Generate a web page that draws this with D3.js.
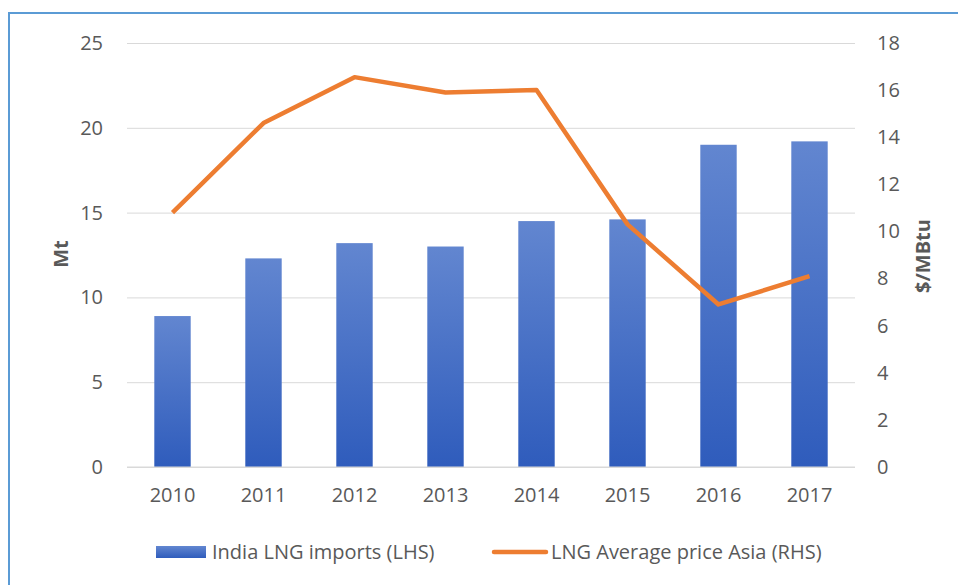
<!DOCTYPE html>
<html>
<head>
<meta charset="utf-8">
<script src="https://cdn.jsdelivr.net/npm/d3@7"></script>
<style>
  body { margin: 0; background: #fff; }
  text { font-family: "Open Sans", "Noto Sans", sans-serif; }
</style>
</head>
<body>
<div id="chart"></div>
<script>
const years = ["2010", "2011", "2012", "2013", "2014", "2015", "2016", "2017"];
const imports = [8.9, 12.3, 13.2, 13.0, 14.5, 14.6, 19.0, 19.2];
const prices = [10.8, 14.6, 16.55, 15.9, 16.0, 10.3, 6.9, 8.1];
const leftTicks = [0, 5, 10, 15, 20, 25];
const rightTicks = [0, 2, 4, 6, 8, 10, 12, 14, 16, 18];

const width = 958;
const height = 585;
const margin = {top: 43, right: 103, bottom: 118, left: 127};
const fontSize = 20;

const svg = d3.select("#chart")
    .append("svg")
    .attr("width", width)
    .attr("height", height);

// frame
svg.append("rect")
    .attr("x", 9).attr("y", 13)
    .attr("width", width + 20).attr("height", height + 20)
    .attr("fill", "none")
    .attr("stroke", "#5b9bd5")
    .attr("stroke-width", 2);

const defs = svg.append("defs");
const grad = defs.append("linearGradient")
    .attr("id", "barGrad")
    .attr("x1", 0).attr("y1", 0).attr("x2", 0).attr("y2", 1);
grad.append("stop").attr("offset", "0%").attr("stop-color", "#6286d0");
grad.append("stop").attr("offset", "100%").attr("stop-color", "#2f5cbc");

const x = d3.scaleBand().domain(years).range([margin.left, width - margin.right]).paddingInner(0.6).paddingOuter(0.3);
const yL = d3.scaleLinear().domain([0, 25]).range([height - margin.bottom, margin.top]);
const yR = d3.scaleLinear().domain([0, 18]).range([height - margin.bottom, margin.top]);

// gridlines
svg.append("g")
    .attr("transform", `translate(${margin.left},0)`)
    .call(d3.axisLeft(yL).tickValues(leftTicks).tickSize(-(width - margin.left - margin.right)).tickFormat(""))
    .call(g => g.select(".domain").remove())
    .call(g => g.selectAll("line").attr("stroke", "#d9d9d9"));

// left axis labels
svg.append("g")
    .attr("transform", `translate(${margin.left - 21},0)`)
    .call(d3.axisLeft(yL).tickValues(leftTicks).tickSize(0))
    .call(g => g.select(".domain").remove())
    .call(g => g.selectAll("text").attr("fill", "#595959").attr("font-size", fontSize));

// right axis labels
svg.append("g")
    .attr("transform", `translate(${width - margin.right + 19},0)`)
    .call(d3.axisRight(yR).tickValues(rightTicks).tickSize(0))
    .call(g => g.select(".domain").remove())
    .call(g => g.selectAll("text").attr("fill", "#595959").attr("font-size", fontSize));

// bars
svg.append("g")
    .selectAll("rect")
    .data(years)
    .join("rect")
    .attr("x", d => x(d))
    .attr("y", (d, i) => yL(imports[i]))
    .attr("width", x.bandwidth())
    .attr("height", (d, i) => yL(0) - yL(imports[i]))
    .attr("fill", "url(#barGrad)");

// x axis
svg.append("g")
    .attr("transform", `translate(0,${height - margin.bottom})`)
    .call(d3.axisBottom(x).tickSize(0).tickPadding(21))
    .call(g => g.select(".domain").attr("stroke", "#d9d9d9").attr("d", `M${margin.left},0H${width - margin.right}`))
    .call(g => g.selectAll("text").attr("fill", "#595959").attr("font-size", fontSize));

// line
const line = d3.line()
    .x((d, i) => x(years[i]) + x.bandwidth() / 2)
    .y(d => yR(d));

svg.append("path")
    .datum(prices)
    .attr("d", line)
    .attr("fill", "none")
    .attr("stroke", "#ed7d31")
    .attr("stroke-width", 4.5)
    .attr("stroke-linejoin", "round");

// axis titles
svg.append("text")
    .attr("transform", `translate(61,254) rotate(-90)`)
    .attr("text-anchor", "middle")
    .attr("dy", "0.35em")
    .attr("font-size", fontSize)
    .attr("font-weight", "bold")
    .attr("fill", "#595959")
    .text("Mt");

svg.append("text")
    .attr("transform", `translate(923,256) rotate(-90)`)
    .attr("text-anchor", "middle")
    .attr("dy", "0.35em")
    .attr("font-size", fontSize)
    .attr("font-weight", "bold")
    .attr("fill", "#595959")
    .text("$/MBtu");

// legend
const legend = svg.append("g").attr("transform", "translate(0,552)");
legend.append("rect")
    .attr("x", 156).attr("y", -6)
    .attr("width", 50).attr("height", 12)
    .attr("fill", "url(#barGrad)");
legend.append("text")
    .attr("x", 212).attr("y", 0)
    .attr("dy", "0.35em")
    .attr("font-size", fontSize)
    .attr("fill", "#595959")
    .text("India LNG imports (LHS)");
legend.append("line")
    .attr("x1", 494).attr("x2", 546)
    .attr("y1", 0).attr("y2", 0)
    .attr("stroke", "#ed7d31")
    .attr("stroke-width", 4.5)
    .attr("stroke-linecap", "round");
legend.append("text")
    .attr("x", 551).attr("y", 0)
    .attr("dy", "0.35em")
    .attr("font-size", fontSize)
    .attr("fill", "#595959")
    .text("LNG Average price Asia (RHS)");
</script>
</body>
</html>
